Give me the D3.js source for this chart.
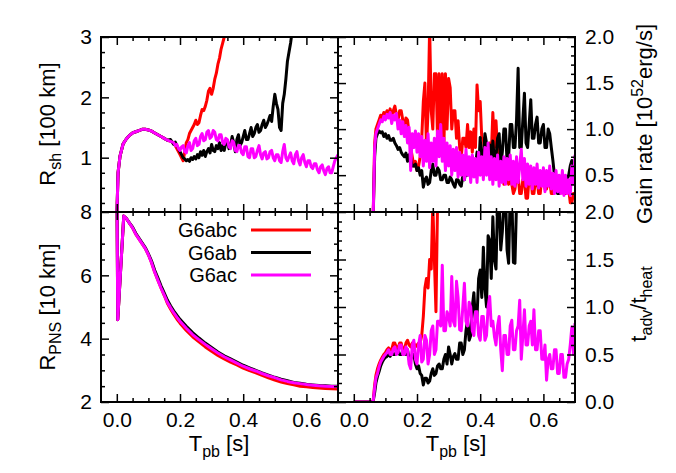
<!DOCTYPE html>
<html><head><meta charset="utf-8">
<script src="https://cdn.jsdelivr.net/npm/d3@7"></script>
<style>body{margin:0;background:#fff}svg{display:block}</style>
</head><body>
<svg id="c" width="676" height="473"></svg>
<script>
// ---------------- DATA ----------------
const seriesNames = ["G6abc", "G6ab", "G6ac"];
const seriesColors = ["#ff0000", "#000000", "#ff00ff"];

const xMajorTicks = [0, 0.2, 0.4, 0.6];
const xMinorTicks = [0.05, 0.1, 0.15, 0.25, 0.3, 0.35, 0.45, 0.5, 0.55, 0.65];

// Shock radius [100 km]
const timeRsh = [0, 0.004, 0.01, 0.02, 0.03, 0.04, 0.05, 0.06, 0.07, 0.08, 0.09, 0.10,
  0.11, 0.12, 0.13, 0.14, 0.15, 0.16, 0.17, 0.18,
  0.185, 0.19, 0.195, 0.20, 0.205, 0.21, 0.215, 0.22, 0.225, 0.23,
  0.235, 0.24, 0.245, 0.25, 0.255, 0.26, 0.265, 0.27, 0.275, 0.28,
  0.285, 0.29, 0.295, 0.30, 0.305, 0.31, 0.315, 0.32, 0.325, 0.33,
  0.335, 0.34, 0.345, 0.35, 0.355, 0.36, 0.365, 0.37, 0.375, 0.38,
  0.385, 0.39, 0.395, 0.40, 0.405, 0.41, 0.415, 0.42, 0.425, 0.43,
  0.435, 0.44, 0.445, 0.45, 0.455, 0.46, 0.465, 0.47, 0.475, 0.48,
  0.485, 0.49, 0.495, 0.50, 0.505, 0.51, 0.515, 0.52, 0.525, 0.53,
  0.535, 0.54, 0.545, 0.55, 0.555, 0.56, 0.565, 0.57, 0.575, 0.58,
  0.585, 0.59, 0.595, 0.60, 0.605, 0.61, 0.615, 0.62, 0.625, 0.63,
  0.635, 0.64, 0.645, 0.65, 0.655, 0.66, 0.665, 0.67, 0.675, 0.68,
  0.685, 0.69, 0.695, 0.70];
const rshG6abc = [0.0, 0.75, 1.02, 1.23, 1.31, 1.37, 1.41, 1.43, 1.45, 1.47, 1.47, 1.46,
  1.44, 1.41, 1.38, 1.35, 1.32, 1.29, 1.27, 1.25,
  1.2, 1.15, 1.1, 1.05, 1.0, 0.95, 1.1, 1.25, 1.3, 1.4,
  1.45, 1.5, 1.55, 1.62, 1.55, 1.58, 1.7, 1.8, 1.78, 1.85,
  1.95, 2.1, 2.15, 2.05, 2.15, 2.3, 2.4, 2.55, 2.65, 2.8,
  2.9, 3.0, 3.2];
const rshG6ab = [0.0, 0.75, 1.02, 1.23, 1.31, 1.37, 1.41, 1.43, 1.45, 1.47, 1.47, 1.46,
  1.44, 1.41, 1.38, 1.35, 1.32, 1.29, 1.3, 1.22,
  1.26, 1.2, 1.15, 1.1, 1.05, 1.0, 0.98, 0.95, 0.97, 0.94,
  1.0, 0.97, 1.02, 0.98, 1.05, 1.0, 1.1, 1.04, 1.12, 1.02,
  1.1, 1.15, 1.08, 1.22, 1.12, 1.1, 1.2, 1.15, 1.25, 1.12,
  1.2, 1.12, 1.25, 1.28, 1.15, 1.2, 1.35, 1.25, 1.1, 1.3,
  1.38, 1.2, 1.25, 1.35, 1.45, 1.3, 1.3, 1.4, 1.5, 1.35,
  1.4, 1.5, 1.55, 1.42, 1.45, 1.55, 1.62, 1.5, 1.55, 1.62,
  1.7, 1.6, 1.85, 2.05, 1.9, 1.8, 1.5, 1.45, 1.9, 2.05,
  2.3, 2.6, 2.75, 2.9, 3.1, 3.2];
const rshG6ac = [0.0, 0.75, 1.02, 1.23, 1.31, 1.37, 1.41, 1.43, 1.45, 1.47, 1.47, 1.46,
  1.44, 1.41, 1.38, 1.35, 1.32, 1.29, 1.27, 1.25,
  1.2, 1.22, 1.15, 1.12, 1.18, 1.2, 1.1, 1.08, 1.2, 1.25,
  1.12, 1.15, 1.28, 1.32, 1.2, 1.22, 1.35, 1.4, 1.28, 1.3,
  1.42, 1.45, 1.32, 1.35, 1.45, 1.42, 1.3, 1.28, 1.38, 1.38,
  1.25, 1.22, 1.32, 1.3, 1.18, 1.15, 1.28, 1.25, 1.12, 1.1,
  1.2, 1.2, 1.08, 1.05, 1.18, 1.18, 1.02, 1.0, 1.15, 1.15,
  1.0, 1.02, 1.12, 1.2, 1.05, 0.98, 1.08, 1.1, 0.98, 1.0,
  1.1, 1.12, 1.0, 0.95, 1.05, 1.05, 0.95, 0.92, 1.1, 1.22,
  1.0, 0.95, 1.02, 1.08, 0.95, 0.9, 1.05, 1.1, 0.95, 0.88,
  1.0, 1.05, 0.92, 0.85, 0.95, 0.95, 0.85, 0.82, 0.9, 0.9,
  0.8, 0.75, 0.85, 0.88, 0.78, 0.72, 0.82, 0.85, 0.75, 0.75,
  0.85, 0.95, 1.0, 1.05];

// PNS radius [10 km]
const timePns = [0, 0.003, 0.022, 0.03, 0.04, 0.05, 0.06, 0.07, 0.08, 0.09, 0.10, 0.11,
  0.12, 0.13, 0.14, 0.15, 0.16, 0.17, 0.18, 0.19, 0.20, 0.22, 0.24, 0.26, 0.28, 0.30, 0.32,
  0.34, 0.36, 0.38, 0.40, 0.42, 0.44, 0.46, 0.48, 0.50, 0.52, 0.54, 0.56, 0.58, 0.60, 0.62,
  0.64, 0.66, 0.68, 0.70];
const pnsG6abc = [9.5, 4.6, 7.87, 7.8, 7.65, 7.5, 7.3, 7.15, 7.0, 6.85, 6.65, 6.4,
  6.1, 5.85, 5.6, 5.37, 5.12, 4.94, 4.77, 4.62, 4.49, 4.26, 4.06, 3.9, 3.74, 3.6, 3.47,
  3.36, 3.26, 3.17, 3.07, 2.99, 2.92, 2.84, 2.76, 2.69, 2.63, 2.58, 2.54, 2.5, 2.48, 2.46,
  2.44, 2.43, 2.42, 2.41];
const pnsG6ab = [9.5, 4.6, 7.87, 7.8, 7.66, 7.52, 7.33, 7.18, 7.03, 6.88, 6.68, 6.45,
  6.16, 5.92, 5.67, 5.45, 5.22, 5.04, 4.88, 4.74, 4.61, 4.39, 4.19, 4.02, 3.86, 3.72, 3.58,
  3.46, 3.36, 3.26, 3.16, 3.08, 3.0, 2.92, 2.85, 2.78, 2.72, 2.67, 2.62, 2.59, 2.56, 2.54,
  2.52, 2.51, 2.5, 2.5];
const pnsG6ac = [9.5, 4.6, 7.87, 7.8, 7.65, 7.5, 7.3, 7.15, 7.0, 6.85, 6.65, 6.4,
  6.1, 5.85, 5.6, 5.38, 5.15, 4.98, 4.82, 4.68, 4.55, 4.33, 4.13, 3.97, 3.82, 3.68, 3.55,
  3.43, 3.33, 3.23, 3.13, 3.05, 2.98, 2.9, 2.83, 2.77, 2.7, 2.65, 2.61, 2.58, 2.55, 2.53,
  2.51, 2.5, 2.49, 2.48];

// Right column time samples
const timeRight = [0, 0.061, 0.066,
  0.07, 0.075, 0.08, 0.085, 0.09, 0.095, 0.10, 0.105, 0.11, 0.115,
  0.12, 0.125, 0.13, 0.135, 0.14, 0.145, 0.15, 0.155, 0.16, 0.165,
  0.17, 0.175, 0.18, 0.185, 0.19, 0.195, 0.20, 0.205, 0.21, 0.215,
  0.22, 0.225, 0.23, 0.235, 0.24, 0.245, 0.25, 0.255, 0.26, 0.265,
  0.27, 0.275, 0.28, 0.285, 0.29, 0.295, 0.30, 0.305, 0.31, 0.315,
  0.32, 0.325, 0.33, 0.335, 0.34, 0.345, 0.35, 0.355, 0.36, 0.365,
  0.37, 0.375, 0.38, 0.385, 0.39, 0.395, 0.40, 0.405, 0.41, 0.415,
  0.42, 0.425, 0.43, 0.435, 0.44, 0.445, 0.45, 0.455, 0.46, 0.465,
  0.47, 0.475, 0.48, 0.485, 0.49, 0.495, 0.50, 0.505, 0.51, 0.515,
  0.52, 0.525, 0.53, 0.535, 0.54, 0.545, 0.55, 0.555, 0.56, 0.565,
  0.57, 0.575, 0.58, 0.585, 0.59, 0.595, 0.60, 0.605, 0.61, 0.615,
  0.62, 0.625, 0.63, 0.635, 0.64, 0.645, 0.65, 0.655, 0.66, 0.665,
  0.67, 0.675, 0.68, 0.685, 0.69, 0.695, 0.70];

// Gain rate [10^52 erg/s]
const gainG6abc = [0, 0, 0.85,
  1.0, 1.05, 1.1, 1.15, 1.12, 1.18, 1.15, 1.2, 1.15, 1.22,
  1.12, 1.2, 1.25, 1.15, 1.1, 1.2, 1.2, 1.1, 1.0, 1.12,
  1.1, 0.95, 0.8, 0.7, 0.6, 0.65, 0.55, 0.6, 0.7, 0.9,
  1.3, 1.5, 0.8, 1.2, 2.1, 1.2, 1.0, 1.6, 1.6, 0.9,
  1.6, 0.9, 1.6, 0.8, 1.6, 1.0, 1.55, 1.45, 1.0, 1.2,
  1.2, 0.9, 1.09, 0.8, 0.69, 0.9, 0.9, 0.8, 1.05, 0.8,
  0.97, 0.75, 1.0, 0.8, 1.48, 1.2, 1.3, 0.9, 0.9, 0.7,
  0.76, 0.6, 0.85, 0.7, 1.18, 0.8, 1.09, 0.75, 0.73, 0.5,
  0.6, 0.4, 0.45, 0.55, 0.4, 0.5, 0.4, 0.3, 0.35, 0.5,
  0.5, 0.3, 0.3, 0.45, 0.45, 0.25, 0.25, 0.5, 0.5, 0.3,
  0.3, 0.45, 0.45, 0.3, 0.3, 0.5, 0.5, 0.35, 0.35, 0.45,
  0.45, 0.3, 0.3, 0.45, 0.45, 0.35, 0.35, 0.4, 0.4, 0.3,
  0.3, 0.35, 0.35, 0.2, 0.2, 0.3, 0.3];
const gainG6ab = [0, 0, 0.7,
  0.9, 0.95, 0.98, 0.96, 0.97, 0.92, 0.95, 0.9, 0.93, 0.88,
  0.88, 0.9, 0.85, 0.82, 0.78, 0.8, 0.75, 0.72, 0.7, 0.74,
  0.65, 0.72, 0.68, 0.6, 0.6, 0.62, 0.55, 0.58, 0.5, 0.55,
  0.37, 0.45, 0.48, 0.4, 0.42, 0.55, 0.62, 0.5, 0.5, 0.58,
  0.55, 0.45, 0.45, 0.5, 0.5, 0.42, 0.42, 0.48, 0.45, 0.4,
  0.37, 0.45, 0.45, 0.4, 0.38, 0.5, 0.45, 0.55, 0.5, 0.6,
  0.55, 0.7, 0.65, 0.6, 0.75, 0.55, 0.91, 0.6, 0.7, 0.95,
  0.85, 0.55, 0.83, 0.6, 0.87, 0.65, 0.7, 0.9, 0.95, 0.6,
  0.75, 1.0, 1.0, 0.65, 0.7, 1.05, 1.05, 0.8, 0.8, 1.1,
  1.66, 0.8, 0.8, 1.1, 1.39, 0.85, 0.8, 1.05, 1.32, 0.9,
  0.9, 1.05, 1.13, 0.85, 0.85, 1.0, 1.05, 0.8, 0.8, 1.0,
  0.95, 0.8, 0.66, 0.5, 0.44, 0.3, 0.3, 0.4, 0.35, 0.3,
  0.33, 0.45, 0.5, 0.6, 0.66, 0.45, 0.45];
const gainG6ac = [0, 0, 0.8,
  0.95, 1.0, 1.05, 1.1, 1.08, 1.14, 1.1, 1.16, 1.12, 1.18,
  1.06, 1.15, 1.1, 1.17, 1.0, 1.1, 0.95, 1.08, 0.92, 1.04,
  0.85, 1.02, 0.55, 0.95, 0.8, 0.98, 0.75, 0.95, 0.7, 0.92,
  0.6, 0.88, 0.65, 0.95, 0.58, 0.85, 0.65, 0.9, 0.6, 0.98,
  0.7, 1.05, 0.65, 0.9, 0.55, 0.85, 0.6, 0.82, 0.5, 0.78,
  0.55, 0.8, 0.48, 0.75, 0.5, 0.72, 0.45, 0.78, 0.5, 0.7,
  0.42, 0.72, 0.48, 0.68, 0.42, 0.75, 0.5, 0.7, 0.45, 0.8,
  0.5, 0.85, 0.45, 0.7, 0.4, 0.68, 0.45, 0.72, 0.38, 0.65,
  0.42, 0.7, 0.4, 0.68, 0.45, 0.72, 0.4, 0.65, 0.38, 0.7,
  0.42, 0.6, 0.78, 0.45, 0.68, 0.38, 0.62, 0.4, 0.6, 0.35,
  0.58, 0.4, 0.62, 0.36, 0.55, 0.38, 0.58, 0.32, 0.55, 0.38,
  0.6, 0.35, 0.52, 0.3, 0.55, 0.32, 0.5, 0.3, 0.55, 0.28,
  0.5, 0.3, 0.45, 0.28, 0.6, 0.4, 0.72];

// t_adv / t_heat
const tadvG6abc = [0, 0, 0.18,
  0.28, 0.35, 0.4, 0.44, 0.47, 0.5, 0.52, 0.55, 0.57, 0.55,
  0.55, 0.62, 0.62, 0.57, 0.57, 0.62, 0.62, 0.55, 0.55, 0.62,
  0.65, 0.6, 0.58, 0.62, 0.62, 0.58, 0.6, 0.62, 0.62, 0.7,
  0.9, 1.2, 1.3, 1.2, 1.5, 1.4, 2.1, 1.5, 0.95, 2.1,
  2.4, 2.5];
const tadvG6ab = [0, 0, 0.1,
  0.2, 0.27, 0.32, 0.38, 0.42, 0.45, 0.47, 0.48, 0.5, 0.48,
  0.52, 0.5, 0.5, 0.53, 0.55, 0.5, 0.5, 0.52, 0.52, 0.5,
  0.55, 0.45, 0.45, 0.5, 0.5, 0.4, 0.35, 0.38, 0.3, 0.28,
  0.18, 0.25, 0.25, 0.2, 0.22, 0.3, 0.35, 0.28, 0.3, 0.38,
  0.4, 0.35, 0.35, 0.45, 0.5, 0.4, 0.58, 0.5, 0.4, 0.48,
  0.51, 0.45, 0.45, 0.62, 0.62, 0.5, 0.55, 0.75, 0.86, 0.65,
  0.7, 1.0, 1.15, 0.85, 0.9, 1.3, 1.39, 1.1, 1.63, 1.2,
  1.0, 1.75, 1.7, 1.3, 1.95, 1.5, 1.4, 2.1, 2.1, 1.6,
  1.79, 2.1, 2.2, 1.6, 1.46, 2.2, 2.2, 1.47, 1.46, 2.1,
  2.3];
const tadvG6ac = [0, 0, 0.15,
  0.25, 0.3, 0.37, 0.42, 0.45, 0.48, 0.5, 0.52, 0.55, 0.5,
  0.5, 0.56, 0.58, 0.5, 0.52, 0.6, 0.6, 0.5, 0.5, 0.58,
  0.55, 0.4, 0.35, 0.6, 0.65, 0.45, 0.4, 0.6, 0.7, 0.42,
  0.45, 0.7, 0.65, 0.4, 0.5, 0.75, 0.8, 0.5, 0.55, 0.85,
  0.85, 0.8, 1.44, 0.75, 0.75, 0.95, 0.9, 0.8, 1.32, 0.85,
  0.8, 1.27, 1.1, 0.76, 0.75, 1.0, 1.25, 0.85, 0.8, 1.05,
  1.0, 0.75, 0.7, 0.95, 0.95, 0.7, 0.65, 0.9, 0.9, 0.65,
  0.7, 1.0, 1.11, 0.8, 0.85, 0.69, 0.6, 0.8, 0.9, 0.55,
  0.33, 0.7, 0.7, 0.5, 0.5, 0.8, 0.86, 0.55, 0.55, 0.75,
  0.8, 1.07, 0.45, 0.7, 0.97, 0.6, 0.6, 0.8, 0.85, 0.6,
  0.97, 0.55, 0.55, 0.75, 0.75, 0.45, 0.45, 0.6, 0.23, 0.45,
  0.5, 0.35, 0.35, 0.55, 0.55, 0.3, 0.3, 0.5, 0.5, 0.26,
  0.26, 0.4, 0.45, 0.6, 0.79, 0.5, 0.83];

// ---------------- DRAW ----------------
const FONT = "'Liberation Sans', Arial, Helvetica, sans-serif";
const svg = d3.select("#c");
const xDomain = [-0.05, 0.7];
const colL = [101, 338], colR = [338, 575];
const rowT = [37, 212], rowB = [212, 402];

const panels = [
  {id: "rsh", cols: colL, rows: rowT, yDomain: [0.1, 3], yMajor: [1, 2, 3],
   yMinor: [0.25, 0.5, 0.75, 1.25, 1.5, 1.75, 2.25, 2.5, 2.75], fmt: d3.format("d"),
   side: "left", time: timeRsh, series: [rshG6abc, rshG6ab, rshG6ac], xLabels: false},
  {id: "pns", cols: colL, rows: rowB, yDomain: [2, 8], yMajor: [2, 4, 6, 8],
   yMinor: [2.5, 3, 3.5, 4.5, 5, 5.5, 6.5, 7, 7.5], fmt: d3.format("d"),
   side: "left", time: timePns, series: [pnsG6abc, pnsG6ab, pnsG6ac], xLabels: true},
  {id: "gain", cols: colR, rows: rowT, yDomain: [0.1, 2], yMajor: [0.5, 1.0, 1.5, 2.0],
   yMinor: [0.2, 0.3, 0.4, 0.6, 0.7, 0.8, 0.9, 1.1, 1.2, 1.3, 1.4, 1.6, 1.7, 1.8, 1.9], fmt: d3.format(".1f"),
   side: "right", time: timeRight, series: [gainG6abc, gainG6ab, gainG6ac], xLabels: false},
  {id: "tadv", cols: colR, rows: rowB, yDomain: [0, 2], yMajor: [0, 0.5, 1.0, 1.5, 2.0],
   yMinor: [0.1, 0.2, 0.3, 0.4, 0.6, 0.7, 0.8, 0.9, 1.1, 1.2, 1.3, 1.4, 1.6, 1.7, 1.8, 1.9], fmt: d3.format(".1f"),
   side: "right", time: timeRight, series: [tadvG6abc, tadvG6ab, tadvG6ac], xLabels: true}
];

const defs = svg.append("defs");

function styleAxis(g, showLabels) {
  g.select(".domain").remove();
  g.selectAll(".tick line").attr("stroke", "#000").attr("stroke-width", 1.5);
  g.selectAll(".tick text").attr("fill", "#000").attr("font-size", 21).attr("font-family", FONT);
  if (!showLabels) g.selectAll(".tick text").remove();
}

panels.forEach(p => {
  const x = d3.scaleLinear().domain(xDomain).range(p.cols);
  const y = d3.scaleLinear().domain(p.yDomain).range([p.rows[1], p.rows[0]]);
  const [x0, x1] = p.cols, [y0, y1] = p.rows;

  defs.append("clipPath").attr("id", "clip-" + p.id)
    .append("rect").attr("x", x0).attr("y", y0).attr("width", x1 - x0).attr("height", y1 - y0);

  const gData = svg.append("g").attr("clip-path", `url(#clip-${p.id})`);
  p.series.forEach((vals, si) => {
    const pts = vals.map((v, i) => [p.time[i], v]).filter(d => d[0] !== undefined && d[1] != null);
    const line = d3.line().x(d => x(d[0])).y(d => y(d[1]));
    gData.append("path").attr("d", line(pts))
      .attr("fill", "none").attr("stroke", seriesColors[si])
      .attr("stroke-width", 3).attr("stroke-linejoin", "round");
  });

  const leftLabels = p.side === "left", rightLabels = p.side === "right";
  svg.append("g").attr("transform", `translate(${x0},0)`)
    .call(d3.axisLeft(y).tickValues(p.yMajor).tickFormat(p.fmt).tickSizeInner(-8).tickSizeOuter(0).tickPadding(9))
    .call(g => styleAxis(g, leftLabels));
  svg.append("g").attr("transform", `translate(${x0},0)`)
    .call(d3.axisLeft(y).tickValues(p.yMinor).tickFormat("").tickSizeInner(-4).tickSizeOuter(0))
    .call(g => styleAxis(g, false));
  svg.append("g").attr("transform", `translate(${x1},0)`)
    .call(d3.axisRight(y).tickValues(p.yMajor).tickFormat(p.fmt).tickSizeInner(-8).tickSizeOuter(0).tickPadding(10))
    .call(g => styleAxis(g, rightLabels));
  svg.append("g").attr("transform", `translate(${x1},0)`)
    .call(d3.axisRight(y).tickValues(p.yMinor).tickFormat("").tickSizeInner(-4).tickSizeOuter(0))
    .call(g => styleAxis(g, false));

  svg.append("g").attr("transform", `translate(0,${y1})`)
    .call(d3.axisBottom(x).tickValues(xMajorTicks).tickFormat(d3.format(".1f")).tickSizeInner(-8).tickSizeOuter(0).tickPadding(10))
    .call(g => styleAxis(g, p.xLabels));
  svg.append("g").attr("transform", `translate(0,${y1})`)
    .call(d3.axisBottom(x).tickValues(xMinorTicks).tickFormat("").tickSizeInner(-4).tickSizeOuter(0))
    .call(g => styleAxis(g, false));
  svg.append("g").attr("transform", `translate(0,${y0})`)
    .call(d3.axisTop(x).tickValues(xMajorTicks).tickFormat("").tickSizeInner(-8).tickSizeOuter(0))
    .call(g => styleAxis(g, false));
  svg.append("g").attr("transform", `translate(0,${y0})`)
    .call(d3.axisTop(x).tickValues(xMinorTicks).tickFormat("").tickSizeInner(-4).tickSizeOuter(0))
    .call(g => styleAxis(g, false));

  svg.append("rect").attr("x", x0).attr("y", y0).attr("width", x1 - x0).attr("height", y1 - y0)
    .attr("fill", "none").attr("stroke", "#000").attr("stroke-width", 2);
});

// Axis titles
function title(xp, yp, rot, parts) {
  const t = svg.append("text").attr("font-family", FONT).attr("font-size", 22).attr("fill", "#000")
    .attr("text-anchor", "middle")
    .attr("transform", `translate(${xp},${yp}) rotate(${rot})`);
  parts.forEach(pt => {
    const ts = t.append("tspan").text(pt.t);
    if (pt.sub) ts.attr("font-size", 16).attr("dy", 6);
    else if (pt.sup) ts.attr("font-size", 16).attr("dy", -9);
    if (pt.back) ts.attr("dy", pt.back);
  });
  return t;
}
title(55, 124, -90, [{t: "R"}, {t: "sh", sub: true}, {t: " [100 km]", back: -6}]);
title(55, 307, -90, [{t: "R"}, {t: "PNS", sub: true}, {t: " [10 km]", back: -6}]);
title(652, 124, -90, [{t: "Gain rate [10"}, {t: "52", sup: true}, {t: "erg/s]", back: 9}]);
title(646, 304, -90, [{t: "t"}, {t: "adv", sub: true}, {t: "/t", back: -6}, {t: "heat", sub: true}]);
title(219, 451, 0, [{t: "T"}, {t: "pb", sub: true}, {t: " [s]", back: -6}]);
title(456, 451, 0, [{t: "T"}, {t: "pb", sub: true}, {t: " [s]", back: -6}]);

// Legend
const legY = [230, 252.5, 275];
seriesNames.forEach((n, i) => {
  svg.append("text").attr("x", 237).attr("y", legY[i]).attr("dy", "0.35em")
    .attr("text-anchor", "end").attr("font-family", FONT).attr("font-size", 20).text(n);
  svg.append("line").attr("x1", 251).attr("x2", 311).attr("y1", legY[i]).attr("y2", legY[i])
    .attr("stroke", seriesColors[i]).attr("stroke-width", 3);
});
</script>
</body></html>
